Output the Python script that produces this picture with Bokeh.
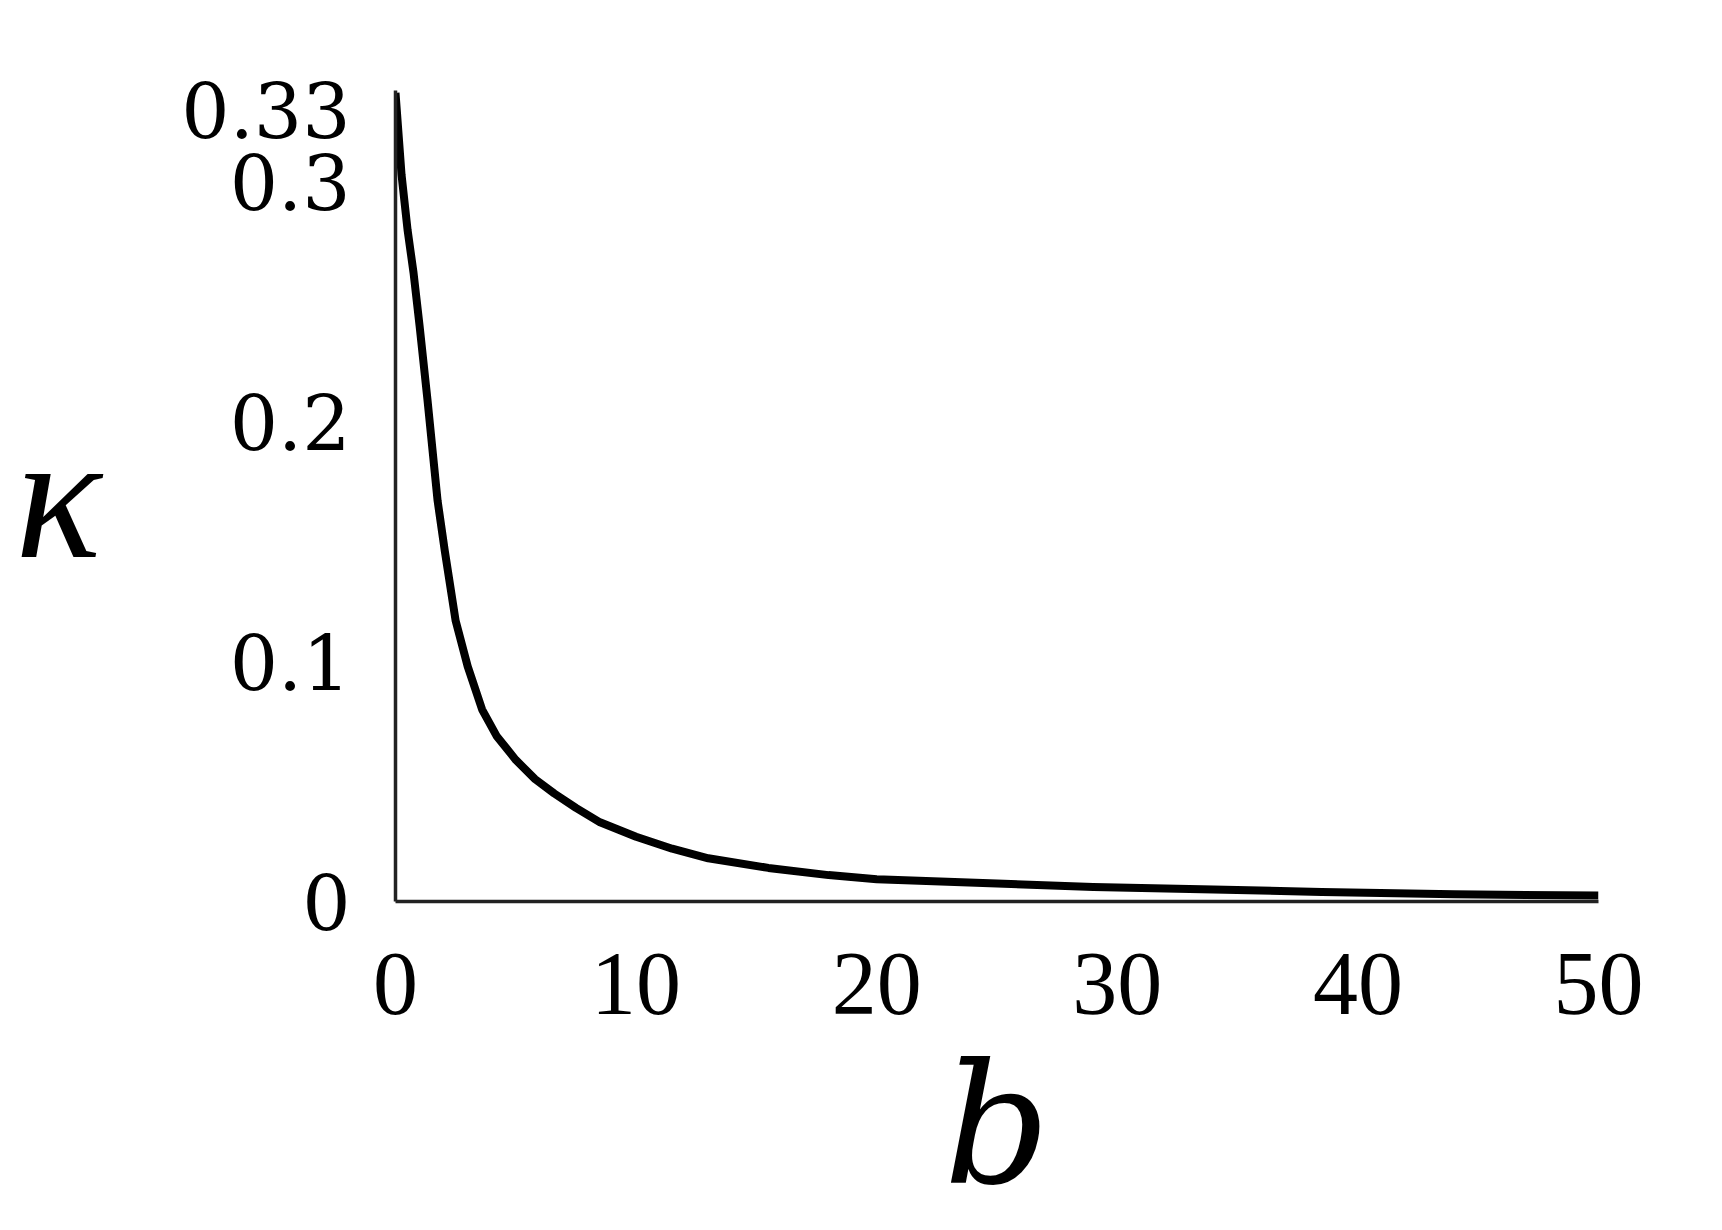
from bokeh.plotting import figure
from bokeh.models import Range1d, FixedTicker
from bokeh.embed import file_html
from bokeh.resources import INLINE

# data
b_vals = [0, 0.25, 0.5, 0.75, 1.0, 1.33, 1.75, 2.05, 2.5, 3.0, 3.6, 4.2, 5.0, 5.8,
          6.6, 7.5, 8.5, 10, 11.5, 13, 15.5, 18, 20, 25, 29, 34, 38.5, 44, 50]
kappa_vals = [0.337, 0.303, 0.280, 0.262, 0.240, 0.209, 0.167, 0.146, 0.117, 0.098,
              0.080, 0.069, 0.059, 0.051, 0.045, 0.039, 0.033, 0.027, 0.022, 0.018,
              0.014, 0.011, 0.0093, 0.0075, 0.006, 0.005, 0.004, 0.003, 0.0025]
x_ticks = [0, 10, 20, 30, 40, 50]
y_ticks = [0, 0.1, 0.2, 0.3, 0.33]
y_tick_labels = {0: "0", 0.1: "0.1", 0.2: "0.2", 0.3: "0.3", 0.33: "0.33"}
x_label = "b"
y_label = "κ"

p = figure(width=1710, height=1228,
           x_range=Range1d(0, 50), y_range=Range1d(0, 0.338),
           output_backend="svg", toolbar_location=None,
           min_border_left=395, min_border_top=90, min_border_right=112,
           min_border_bottom=327)

p.line(b_vals, kappa_vals, line_color="black", line_width=8, line_join="round")

p.grid.visible = False
p.outline_line_color = None
p.background_fill_color = "white"
p.border_fill_color = "white"

for ax in (p.xaxis[0], p.yaxis[0]):
    ax.axis_line_color = "#222222"
    ax.axis_line_width = 3.5
    ax.major_tick_line_color = None
    ax.minor_tick_line_color = None
    ax.major_tick_out = 0
    ax.major_tick_in = 0
    ax.minor_tick_out = 0
    ax.minor_tick_in = 0
    ax.major_label_text_color = "black"
    ax.axis_label_text_color = "black"
    ax.axis_label_text_font_style = "italic"

xa = p.xaxis[0]
xa.ticker = FixedTicker(ticks=x_ticks)
xa.major_label_text_font = "Liberation Serif"
xa.major_label_text_font_size = "90px"
xa.major_label_standoff = 52
xa.axis_label = x_label
xa.axis_label_text_font = "DejaVu Serif"
xa.axis_label_text_font_size = "166px"
xa.axis_label_standoff = 12

ya = p.yaxis[0]
ya.ticker = FixedTicker(ticks=y_ticks)
ya.major_label_overrides = y_tick_labels
ya.major_label_text_font = "DejaVu Serif"
ya.major_label_text_font_size = "76px"
ya.major_label_standoff = 45
ya.axis_label = y_label
ya.axis_label_text_font = "Liberation Serif"
ya.axis_label_text_font_size = "180px"
ya.axis_label_orientation = "horizontal"
ya.axis_label_standoff = 77

open("out.html", "w").write(file_html(p, INLINE))
